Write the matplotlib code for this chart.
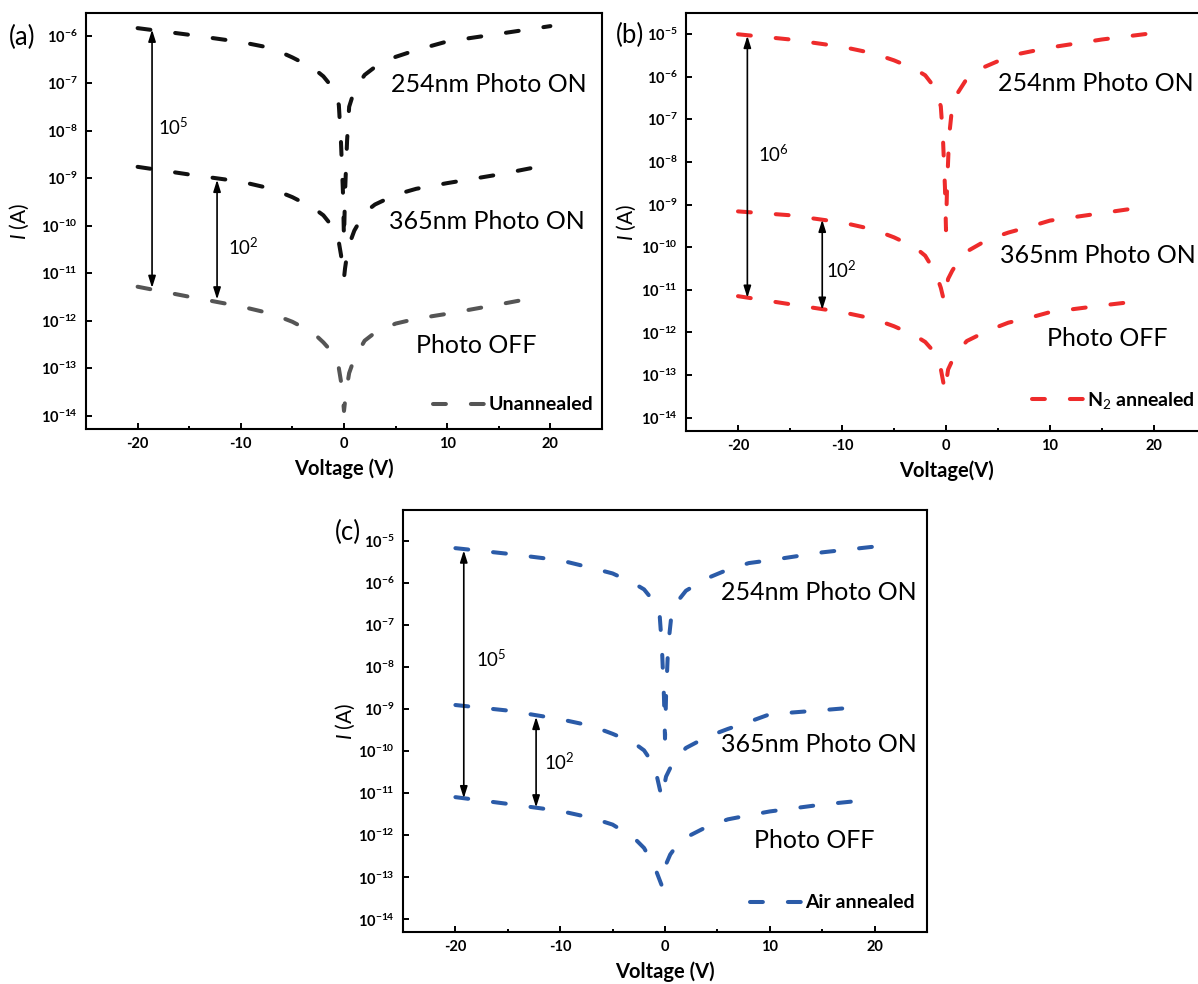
import numpy as np
import matplotlib
matplotlib.use('Agg')
import matplotlib.pyplot as plt
from matplotlib.ticker import FixedLocator, NullLocator, FuncFormatter

plt.rcParams['font.family'] = ['Lato', 'DejaVu Sans']
plt.rcParams['mathtext.fontset'] = 'custom'
plt.rcParams['mathtext.rm'] = 'Lato'
plt.rcParams['mathtext.it'] = 'Lato:italic'
plt.rcParams['mathtext.bf'] = 'Lato:bold'
plt.rcParams['axes.unicode_minus'] = False

# ---------------- data (Voltage in V, current in A) ----------------
# (a) Unannealed
Va_254 = [-20, -15, -10, -7, -5, -3, -2, -1, -0.5, -0.3, -0.1, 0, 0.1, 0.3, 0.5, 1, 2, 3, 5, 7, 10, 15, 20]
Ia_254 = [1.45e-6, 1.05e-6, 7.4e-7, 5.5e-7, 3.5e-7, 2.1e-7, 1.4e-7, 7.6e-8, 3.5e-8, 6.3e-9, 5.0e-10, 5.0e-11,
          5.0e-10, 6.3e-9, 3.2e-8, 7.1e-8, 1.5e-7, 2.2e-7, 3.6e-7, 5.0e-7, 7.6e-7, 1.1e-6, 1.6e-6]
Va_365 = [-20, -15, -10, -7, -5, -3, -2, -1, -0.5, -0.3, -0.1, 0, 0.1, 0.3, 0.5, 1, 2, 3, 5, 7, 10, 15, 19]
Ia_365 = [1.74e-9, 1.2e-9, 8.5e-10, 6.0e-10, 4.0e-10, 2.4e-10, 1.66e-10, 8.9e-11, 4.5e-11, 2.5e-11, 1.26e-11, 7.9e-12,
          1.26e-11, 2.5e-11, 4.0e-11, 7.9e-11, 1.9e-10, 2.8e-10, 4.5e-10, 6.0e-10, 7.9e-10, 1.2e-9, 1.78e-9]
Va_off = [-20, -15, -10, -7, -5, -3, -2, -1, -0.5, -0.2, 0, 0.2, 0.5, 1, 2, 3, 5, 7, 10, 15, 19]
Ia_off = [5.2e-12, 3.2e-12, 2.0e-12, 1.4e-12, 9.5e-13, 5.6e-13, 3.5e-13, 2.0e-13, 1.0e-13, 4.0e-14, 1.26e-14,
          3.2e-14, 7.9e-14, 1.6e-13, 3.8e-13, 5.6e-13, 8.7e-13, 1.1e-12, 1.4e-12, 2.2e-12, 3.2e-12]

# (b) N2 annealed
Vb_254 = [-20, -15, -10, -7, -5, -3, -2, -1, -0.5, -0.3, -0.1, 0, 0.1, 0.3, 0.6, 1, 2, 3.5, 5, 7, 10, 15, 20]
Ib_254 = [9.8e-6, 7.4e-6, 5.0e-6, 3.5e-6, 2.4e-6, 1.5e-6, 1.07e-6, 5.2e-7, 2.0e-7, 4.0e-8, 2.5e-9, 2.5e-10,
          2.5e-9, 4.0e-8, 2.0e-7, 3.7e-7, 8.9e-7, 1.6e-6, 2.3e-6, 3.4e-6, 4.8e-6, 7.4e-6, 1.05e-5]
Vb_365 = [-20, -15, -10, -7, -5, -3, -2, -1, -0.5, -0.2, 0.2, 0.6, 1, 2, 4, 6, 8, 10, 15, 19]
Ib_365 = [6.9e-10, 5.6e-10, 3.8e-10, 2.6e-10, 1.7e-10, 1.0e-10, 6.3e-11, 2.5e-11, 1.12e-11, 5.6e-12,
          1.8e-11, 2.8e-11, 4.0e-11, 7.9e-11, 1.5e-10, 2.2e-10, 3.0e-10, 4.2e-10, 6.3e-10, 8.7e-10]
Vb_off = [-20, -15, -10, -7, -5, -3, -2, -1, -0.5, -0.1, 0.2, 0.6, 1, 2, 4, 6, 8, 10, 15, 19]
Ib_off = [7.1e-12, 4.6e-12, 3.0e-12, 2.1e-12, 1.4e-12, 8.5e-13, 6.0e-13, 3.2e-13, 1.4e-13, 4.2e-14,
          1.35e-13, 2.2e-13, 3.3e-13, 6.3e-13, 1.1e-12, 1.7e-12, 2.2e-12, 3.0e-12, 4.3e-12, 5.6e-12]

# (c) Air annealed
Vc_254 = [-20, -15, -10, -7, -5, -3, -2, -1, -0.5, -0.3, -0.1, 0, 0.1, 0.3, 0.6, 1, 2, 4, 6, 8, 10, 15, 20]
Ic_254 = [6.8e-6, 5.0e-6, 3.5e-6, 2.3e-6, 1.7e-6, 1.0e-6, 7.1e-7, 3.5e-7, 1.6e-7, 3.2e-8, 2.0e-9, 2.0e-10,
          2.0e-9, 3.2e-8, 1.6e-7, 3.2e-7, 6.6e-7, 1.3e-6, 2.1e-6, 3.0e-6, 3.5e-6, 5.4e-6, 7.4e-6]
Vc_365 = [-20, -15, -10, -7, -5, -3, -2, -1, -0.5, -0.3, 0.1, 0.5, 1, 2, 4, 6, 8, 10, 15, 19]
Ic_365 = [1.26e-9, 9.3e-10, 5.8e-10, 4.0e-10, 2.6e-10, 1.6e-10, 1.05e-10, 4.5e-11, 1.26e-11, 7.9e-12,
          2.5e-11, 4.0e-11, 6.6e-11, 1.2e-10, 2.2e-10, 3.4e-10, 5.0e-10, 7.6e-10, 9.5e-10, 1.15e-9]
Vc_off = [-20, -15, -10, -7, -5, -3, -2, -1, -0.3, 0, 0.5, 1, 2, 4, 6, 8, 10, 15, 19]
Ic_off = [8.1e-12, 5.6e-12, 3.8e-12, 2.6e-12, 1.8e-12, 8.9e-13, 5.0e-13, 1.8e-13, 6.3e-14, 1.8e-13,
          3.5e-13, 5.2e-13, 8.9e-13, 1.6e-12, 2.4e-12, 3.0e-12, 3.7e-12, 5.4e-12, 6.8e-12]

curve_labels = ['254nm Photo ON', '365nm Photo ON', 'Photo OFF']
legend_labels = ['Unannealed', r'N$_2$ annealed', 'Air annealed']
ratio_labels = [(r'$10^5$', r'$10^2$'), (r'$10^6$', r'$10^2$'), (r'$10^5$', r'$10^2$')]
x_ticks = [-20, -10, 0, 10, 20]
x_minor = [-15, -5, 5, 15]

# ---------------- figure ----------------
W, H = 1198, 984
fig = plt.figure(figsize=(W / 100, H / 100), dpi=100)


def px_axes(l, t, r, b):
    return fig.add_axes([l / W, 1 - b / H, (r - l) / W, (b - t) / H])


DASH = (3.2, 6.2)
LW = 2.9
CURVE_FS = 18
RATIO_FS = 13.5


def style(ax, ylo, yhi, ytop, xlabel, ylab_x):
    ax.set_yscale('log')
    ax.set_xlim(-25, 25)
    ax.set_ylim(10 ** ylo, 10 ** yhi)
    ax.xaxis.set_major_locator(FixedLocator(x_ticks))
    ax.xaxis.set_minor_locator(FixedLocator(x_minor))
    ax.yaxis.set_major_locator(FixedLocator([10.0 ** k for k in range(-14, ytop + 1)]))
    ax.yaxis.set_minor_locator(NullLocator())
    ax.yaxis.set_major_formatter(FuncFormatter(
        lambda v, p: r'$\mathbf{10^{%d}}$' % round(np.log10(v))))
    ax.xaxis.set_major_formatter(FuncFormatter(lambda v, p: '%d' % v))
    ax.tick_params(which='both', direction='in', top=False, right=False, width=1.4, colors='black')
    ax.tick_params(which='major', length=4.5, labelsize=10.5, pad=6)
    ax.tick_params(which='minor', length=2.5)
    for lab in ax.get_xticklabels():
        lab.set_fontweight('bold')
    for s in ax.spines.values():
        s.set_linewidth(1.5)
    ax.set_xlabel(xlabel, fontsize=14.5, labelpad=5, fontweight='bold')
    ax.set_ylabel(r'$I$ (A)', fontsize=15)
    ax.yaxis.set_label_coords(ylab_x, 0.5)


def curve(ax, V, I, color, label=None):
    ln, = ax.plot(V, I, color=color, lw=LW, dashes=DASH, dash_capstyle='round',
                  solid_capstyle='round', label=label)
    return ln


def darrow(ax, v, itop, ibot):
    ax.annotate('', xy=(v, ibot), xytext=(v, itop),
                arrowprops=dict(arrowstyle='<|-|>,head_length=0.7,head_width=0.22',
                                color='black', lw=1.2, shrinkA=0, shrinkB=0))


def ctext(ax, v, i, s, fs):
    ax.text(v, i, s, fontsize=fs)


# ---- (a)
axa = px_axes(86, 13, 602, 429)
style(axa, -14.28, -5.52, -6, 'Voltage (V)', -0.107)
curve(axa, Va_254, Ia_254, '#111111')
curve(axa, Va_365, Ia_365, '#111111')
la = curve(axa, Va_off, Ia_off, '#555555', legend_labels[0])
darrow(axa, -18.6, 1.35e-6, 4.9e-12)
darrow(axa, -12.3, 9.3e-10, 2.8e-12)
ctext(axa, -18.0, 10 ** -8.08, ratio_labels[0][0], RATIO_FS)
ctext(axa, -11.2, 10 ** -10.61, ratio_labels[0][1], RATIO_FS)
ctext(axa, 4.6, 10 ** -7.19, curve_labels[0], CURVE_FS)
ctext(axa, 4.4, 10 ** -10.07, curve_labels[1], CURVE_FS)
ctext(axa, 7.0, 10 ** -12.69, curve_labels[2], CURVE_FS)

# ---- (b)
axb = px_axes(686, 13, 1206, 431)
style(axb, -14.31, -4.51, -5, 'Voltage(V)', -0.092)
curve(axb, Vb_254, Ib_254, '#EE2B2B')
curve(axb, Vb_365, Ib_365, '#EE2B2B')
lb = curve(axb, Vb_off, Ib_off, '#EE2B2B', legend_labels[1])
darrow(axb, -19.1, 9.0e-6, 6.5e-12)
darrow(axb, -11.9, 4.4e-10, 3.4e-12)
ctext(axb, -18.1, 10 ** -7.99, ratio_labels[1][0], RATIO_FS)
ctext(axb, -11.5, 10 ** -10.72, ratio_labels[1][1], RATIO_FS)
ctext(axb, 5.0, 10 ** -6.35, curve_labels[0], CURVE_FS)
ctext(axb, 5.2, 10 ** -10.37, curve_labels[1], CURVE_FS)
ctext(axb, 9.7, 10 ** -12.32, curve_labels[2], CURVE_FS)

# ---- (c)
axc = px_axes(403, 510, 927, 932)
style(axc, -14.30, -4.26, -5, 'Voltage (V)', -0.088)
curve(axc, Vc_254, Ic_254, '#2B5BA8')
curve(axc, Vc_365, Ic_365, '#2B5BA8')
lc = curve(axc, Vc_off, Ic_off, '#2B5BA8', legend_labels[2])
darrow(axc, -19.2, 6.0e-6, 7.6e-12)
darrow(axc, -12.3, 6.6e-10, 4.6e-12)
ctext(axc, -18.0, 10 ** -7.99, ratio_labels[2][0], RATIO_FS)
ctext(axc, -11.5, 10 ** -10.44, ratio_labels[2][1], RATIO_FS)
ctext(axc, 5.3, 10 ** -6.40, curve_labels[0], CURVE_FS)
ctext(axc, 5.3, 10 ** -10.02, curve_labels[1], CURVE_FS)
ctext(axc, 8.5, 10 ** -12.29, curve_labels[2], CURVE_FS)

for ax, ln, (bx, by) in [(axa, la, (0.983, 0.058)), (axb, lb, (0.979, 0.074)), (axc, lc, (0.977, 0.069))]:
    ax.legend(handles=[ln], loc='center right', bbox_to_anchor=(bx, by), frameon=False,
              prop={'size': 14, 'weight': 'bold'}, handlelength=2.7, handletextpad=0.15,
              borderpad=0, borderaxespad=0)

fig.text(9 / W, 1 - 37 / H, '(a)', fontsize=18.5, va='center')
fig.text(616 / W, 1 - 35 / H, '(b)', fontsize=18.5, va='center')
fig.text(335 / W, 1 - 532 / H, '(c)', fontsize=18.5, va='center')

fig.savefig('out.png', dpi=100)
